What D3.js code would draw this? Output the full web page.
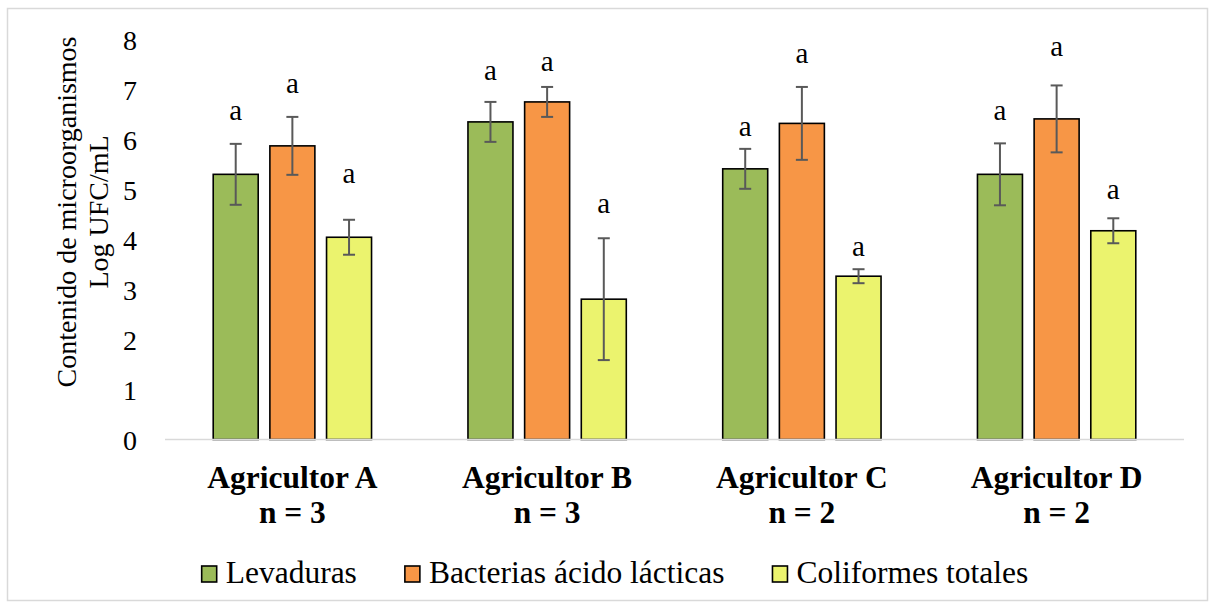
<!DOCTYPE html>
<html>
<head>
<meta charset="utf-8">
<script src="https://cdn.jsdelivr.net/npm/d3@7"></script>
<style>
  html, body { margin: 0; padding: 0; background: #fff; }
  svg { display: block; }
  text { font-family: "Liberation Serif", "Times New Roman", serif; fill: #000; }
</style>
</head>
<body>
<svg id="chart" width="1209" height="609"></svg>
<script>
// Farms (two-line category labels) and sampled groups
const farms = ["Agricultor A", "Agricultor B", "Agricultor C", "Agricultor D"];
const sampleSizes = ["n = 3", "n = 3", "n = 2", "n = 2"];
const seriesNames = ["Levaduras", "Bacterias ácido lácticas", "Coliformes totales"];
const seriesColors = ["#9bbb59", "#f79646", "#ebf36e"];

// Mean counts (Log UFC/mL) per farm
const levaduras = [5.31, 6.36, 5.42, 5.31];
const bacterias = [5.88, 6.76, 6.33, 6.42];
const coliformes = [4.05, 2.81, 3.27, 4.18];

// Error bar half-widths
const levadurasErr = [0.61, 0.40, 0.40, 0.62];
const bacteriasErr = [0.58, 0.30, 0.73, 0.67];
const coliformesErr = [0.35, 1.22, 0.14, 0.25];

// Significance letters and the level (axis units) where each is centred
const letters = ["a", "a", "a"];
const levadurasLetterAt = [6.53, 7.33, 6.21, 6.53];
const bacteriasLetterAt = [7.06, 7.50, 7.66, 7.81];
const coliformesLetterAt = [5.26, 4.66, 3.81, 4.94];

const yTicks = [0, 1, 2, 3, 4, 5, 6, 7, 8];
const yTitle = ["Contenido de microorganismos", "Log UFC/mL"];

const means = [levaduras, bacterias, coliformes];
const errs = [levadurasErr, bacteriasErr, coliformesErr];
const letterAt = [levadurasLetterAt, bacteriasLetterAt, coliformesLetterAt];

const rows = [];
farms.forEach((f, i) => {
  seriesNames.forEach((s, j) => {
    rows.push({ farm: f, series: s, si: j, value: means[j][i], err: errs[j][i], letter: letters[j], letterAt: letterAt[j][i] });
  });
});

const svg = d3.select("#chart");

// outer chart frame
svg.append("rect")
  .attr("x", 7.5).attr("y", 8.5)
  .attr("width", 1200).attr("height", 592)
  .attr("fill", "none").attr("stroke", "#d9d9d9").attr("stroke-width", 1.5);

const plot = { left: 165, right: 1184, top: 40, bottom: 439.5 };

const x0 = d3.scaleBand().domain(farms).range([plot.left, plot.right]).padding(0);
const groupW = x0.bandwidth();
const x1 = d3.scaleBand().domain(seriesNames)
  .range([groupW / 2 - 85, groupW / 2 + 85])
  .paddingInner(0.206).paddingOuter(0.103);
const y = d3.scaleLinear().domain([0, 8]).range([plot.bottom, plot.top]);
const color = d3.scaleOrdinal().domain(seriesNames).range(seriesColors);

// y axis tick labels (no axis line or tick marks)
const yAxis = svg.append("g")
  .attr("transform", `translate(137,0)`)
  .call(d3.axisLeft(y).tickValues(yTicks).tickSize(0).tickPadding(0).tickFormat(d3.format("d")));
yAxis.select(".domain").remove();
yAxis.selectAll("text")
  .attr("font-family", "Liberation Serif, Times New Roman, serif")
  .attr("font-size", 28).attr("fill", "#000").attr("dy", "0.34em");

// bars
svg.append("g").selectAll("rect")
  .data(rows).join("rect")
  .attr("x", d => x0(d.farm) + x1(d.series))
  .attr("y", d => y(d.value))
  .attr("width", x1.bandwidth())
  .attr("height", d => y(0) - y(d.value))
  .attr("fill", d => color(d.series))
  .attr("stroke", "#000").attr("stroke-width", 1.6);

// category axis line
svg.append("line")
  .attr("x1", plot.left).attr("x2", plot.right)
  .attr("y1", y(0)).attr("y2", y(0))
  .attr("stroke", "#d9d9d9").attr("stroke-width", 1.5);

// error bars
const eb = svg.append("g").attr("stroke", "#595959").attr("stroke-width", 2).attr("fill", "none");
rows.forEach(d => {
  const cx = x0(d.farm) + x1(d.series) + x1.bandwidth() / 2;
  const yt = y(d.value + d.err), yb = y(d.value - d.err);
  eb.append("line").attr("x1", cx).attr("x2", cx).attr("y1", yt).attr("y2", yb);
  eb.append("line").attr("x1", cx - 6).attr("x2", cx + 6).attr("y1", yt).attr("y2", yt);
  eb.append("line").attr("x1", cx - 6).attr("x2", cx + 6).attr("y1", yb).attr("y2", yb);
});

// significance letters
svg.append("g").selectAll("text")
  .data(rows).join("text")
  .attr("x", d => x0(d.farm) + x1(d.series) + x1.bandwidth() / 2)
  .attr("y", d => y(d.letterAt))
  .attr("dy", "0.22em")
  .attr("text-anchor", "middle")
  .attr("font-size", 29)
  .text(d => d.letter);

// category labels (two lines, bold)
const cat = svg.append("g").selectAll("text")
  .data(farms).join("text")
  .attr("text-anchor", "middle")
  .attr("font-size", 31.5).attr("font-weight", "bold");
cat.append("tspan")
  .attr("x", d => x0(d) + groupW / 2).attr("y", 488)
  .text(d => d);
cat.append("tspan")
  .attr("x", d => x0(d) + groupW / 2).attr("y", 523)
  .text((d, i) => sampleSizes[i]);

// y axis title (two rotated lines)
const title = svg.append("text")
  .attr("transform", "rotate(-90)")
  .attr("text-anchor", "middle")
  .attr("font-size", 28);
yTitle.forEach((t, i) => {
  title.append("tspan")
    .attr("x", -212)
    .attr("y", 76 + i * 32)
    .text(t);
});

// legend, laid out from measured label widths and centred
const legend = svg.append("g");
const items = legend.selectAll("g").data(seriesNames).join("g");
items.append("rect")
  .attr("width", 15).attr("height", 16)
  .attr("y", 566)
  .attr("fill", d => color(d))
  .attr("stroke", "#000").attr("stroke-width", 1.6);
items.append("text")
  .attr("x", 24).attr("y", 583)
  .attr("font-size", 31.5)
  .text(d => d);
let widths = [];
items.each(function() { widths.push(d3.select(this).select("text").node().getComputedTextLength() + 24); });
const gap = 48;
const total = d3.sum(widths) + gap * (widths.length - 1);
let cursor = 615 - total / 2;
items.attr("transform", (d, i) => {
  const t = `translate(${cursor},0)`;
  cursor += widths[i] + gap;
  return t;
});
</script>
</body>
</html>
